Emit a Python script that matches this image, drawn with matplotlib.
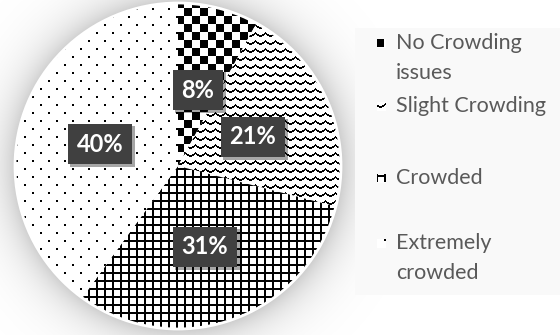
import numpy as np
import matplotlib
matplotlib.use("Agg")
import matplotlib.pyplot as plt
from matplotlib.patches import Rectangle, Circle
import matplotlib.patheffects as pe

# data
categories = ["No Crowding\nissues", "Slight Crowding", "Crowded", "Extremely\ncrowded"]
shares = [8, 21, 31, 40]
pct_labels = ["8%", "21%", "31%", "40%"]

W, H = 560, 335
CX, CY, R = 178, 166, 163          # pie centre / radius in pixels (y from top)

plt.rcParams["font.family"] = ["Lato", "DejaVu Sans"]

fig = plt.figure(figsize=(W / 100, H / 100), dpi=100)
ax = fig.add_axes([0, 0, 1, 1])

yy, xx = np.mgrid[0:H, 0:W]


def to_rgba(mask):
    img = np.ones((H, W, 4))
    img[mask, :3] = 0.0
    return img


# fill patterns, one per slice
tri = 3 * np.abs((xx % 10) / 5.0 - 1)
patterns = [
    to_rgba(((xx // 8) + (yy // 8)) % 2 == 0),                       # checker
    to_rgba(((yy - tri) % 8) < 2.0),                                  # zigzag
    to_rgba((xx % 8 < 2) | (yy % 8 < 2)),                             # grid
    to_rgba((yy % 8 < 2) & (((xx + (yy // 8 % 2) * 8) % 16) < 2)),   # dots
]

# soft glow behind the pie
d = np.hypot(xx - CX, yy - CY)
glow = np.zeros((H, W, 4))
glow[..., 3] = np.where(d > R, 0.2 * np.exp(-(d - R) / 20.0), 0.2)
ax.imshow(glow, extent=(0, W, 0, H), origin="upper", zorder=0, interpolation="bilinear")

# legend panel
ax.add_patch(Rectangle((355, H - 295), 210, 267, facecolor="#f9f9f9", edgecolor="none", zorder=1))

wedges, _ = ax.pie(shares, startangle=90, counterclock=False,
                   center=(CX, H - CY), radius=R,
                   wedgeprops=dict(facecolor="white", edgecolor="none"))
for w, pat in zip(wedges, patterns):
    w.set_zorder(2)
    im = ax.imshow(pat, extent=(0, W, 0, H), origin="upper", zorder=3,
                   interpolation="nearest")
    im.set_clip_path(w)

ax.add_patch(Circle((CX, H - CY), R, fill=False, edgecolor="white", linewidth=2, zorder=4))

# value boxes
label_pos = [(198, 90), (253, 137), (205, 247), (100, 144)]
for txt, (lx, ly) in zip(pct_labels, label_pos):
    t = ax.text(lx, H - ly, txt, ha="center", va="center", color="white",
                fontsize=17, fontweight="bold", zorder=6,
                bbox=dict(boxstyle="square,pad=0.38", facecolor="#404040", edgecolor="none"))
    t.get_bbox_patch().set_path_effects(
        [pe.withSimplePatchShadow(offset=(2, -2), shadow_rgbFace="black", alpha=0.35)])

# legend entries with a small swatch of each fill
legend_y = [43, 106, 178, 243]
for i, (name, ly) in enumerate(zip(categories, legend_y)):
    box = Rectangle((377, H - ly - 4.5), 9, 9, facecolor="white", edgecolor="none", zorder=5)
    ax.add_patch(box)
    im = ax.imshow(patterns[i], extent=(0, W, 0, H), origin="upper", zorder=6,
                   interpolation="nearest")
    im.set_clip_path(box)
    for k, line in enumerate(name.split("\n")):
        ax.text(396, H - ly - 30 * k, line, ha="left", va="center",
                color="#595959", fontsize=15.5, zorder=6)

ax.set_xlim(0, W)
ax.set_ylim(0, H)
ax.set_aspect("auto")
ax.axis("off")

fig.savefig("out.png", dpi=100, facecolor="white")
